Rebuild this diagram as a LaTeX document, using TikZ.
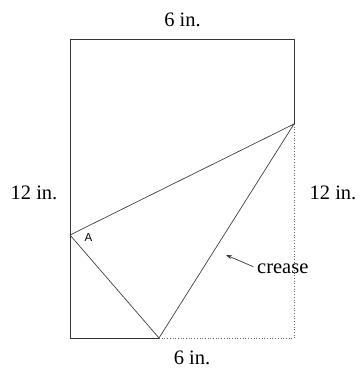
\documentclass[tikz,border=0pt]{standalone}
\usepackage{fontspec}
\setmainfont{Liberation Serif}
\newfontfamily\labelsans{Liberation Sans}
\usetikzlibrary{arrows.meta}
\begin{document}
\begin{tikzpicture}[x=1pt,y=-1pt,
  edge/.style={line width=0.7pt,draw=black!80},
  fold/.style={line width=0.7pt,draw=black!75},
  hidden/.style={line width=0.7pt,draw=black!60,dotted},
  dim/.style={font=\fontsize{20.5}{24}\selectfont,inner sep=0pt,anchor=base},
  pointer/.style={line width=0.7pt,draw=black!80,-{Stealth[length=6pt,width=4pt]}}]
\useasboundingbox (0,0) rectangle (360,375);
\coordinate (TL) at (70,39);
\coordinate (TR) at (294,39);
\coordinate (BL) at (70,338);
\coordinate (BR) at (294,338);
\coordinate (P) at (294,124);
\coordinate (Q) at (70,235);
\coordinate (R) at (159,338);
\draw[edge] (R) -- (BL) -- (TL) -- (TR) -- (P);
\draw[fold] (P) -- (Q) -- (R) -- (P);
\draw[hidden] (P) -- (BR) -- (R);
\node[dim] (top) at (182.5,26) {6 in.};
\node[dim] (bot) at (192,364) {6 in.};
\node[dim] (left) at (34,199) {12 in.};
\node[dim] (right) at (333,199) {12 in.};
\node[dim,anchor=base west] (crease) at (257,273) {crease};
\node[font=\labelsans\fontsize{11.5}{13}\selectfont,inner sep=0pt] (A) at (88.5,238) {A};
\coordinate (tip) at (226,255);
\draw[pointer,shorten <=4pt] (crease.west) -- (tip);
\end{tikzpicture}
\end{document}
